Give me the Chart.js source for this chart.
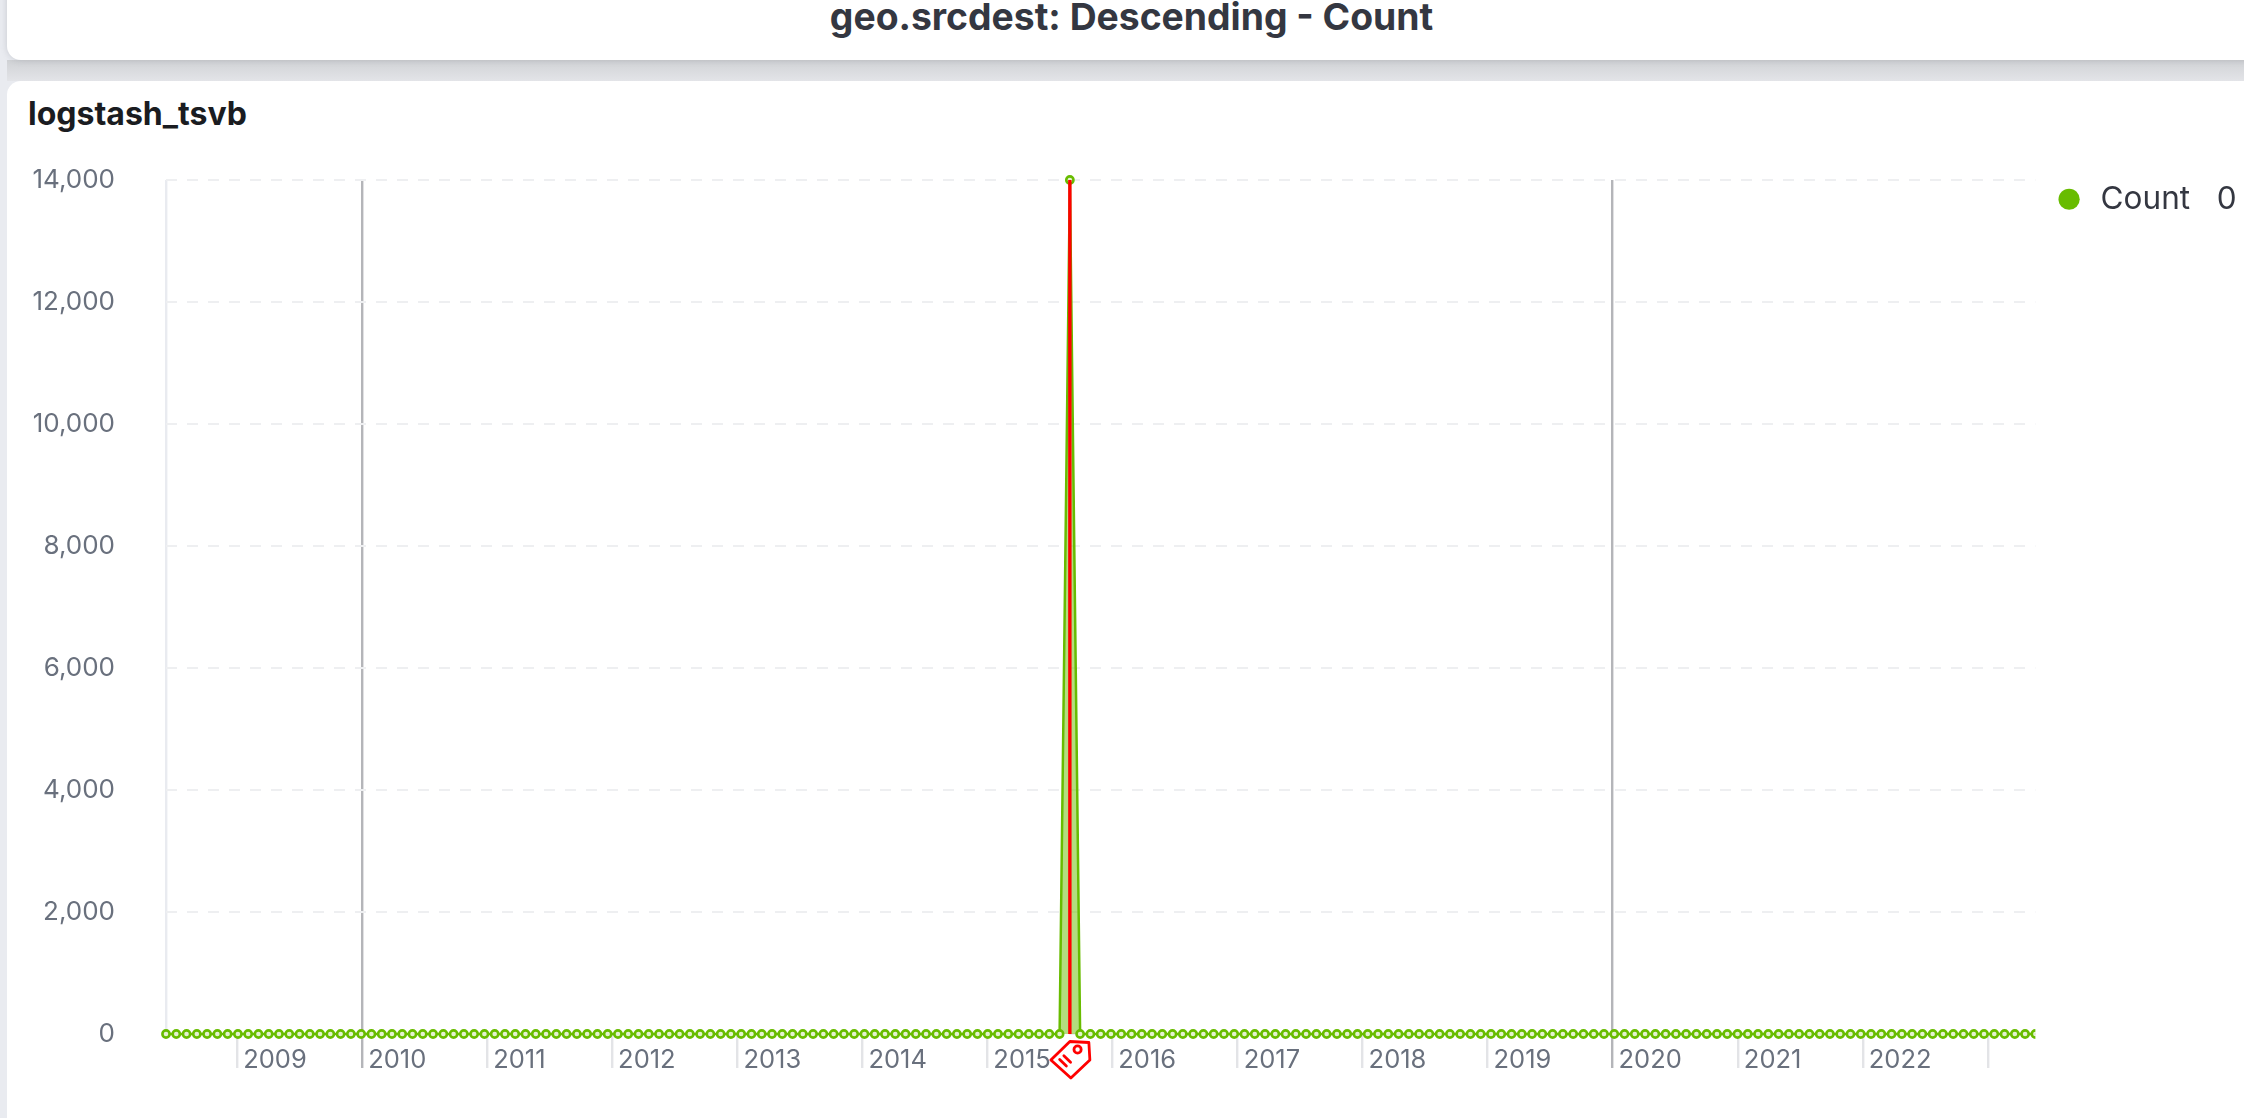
<!DOCTYPE html>
<html><head><meta charset="utf-8">
<script src="https://cdn.jsdelivr.net/npm/chart.js@4"></script>
<style>
html,body{margin:0;padding:0;width:2244px;height:1118px;overflow:hidden;background:#e9ebf0;font-family:Inter,sans-serif}
.card{position:absolute;left:7px;right:-20px;background:#fff;border-radius:14px}
#c1{top:-30px;height:90px;box-shadow:0 0 6px rgba(100,105,115,.25)}
#gut{position:absolute;left:7px;right:0;top:60px;height:21px;background:linear-gradient(#d0d2d5,#e3e4e8)}
#c2{top:81px;height:1100px}
#t1{position:absolute;left:0;top:-3px;width:2263px;text-align:center;font-weight:700;font-size:37.3px;line-height:40px;color:#343741;white-space:nowrap}
#t2{position:absolute;left:28px;top:96px;font-weight:700;font-size:32px;line-height:36px;color:#1a1c21;white-space:nowrap}
canvas{position:absolute;left:0;top:0}
</style></head><body>
<div id="gut"></div>
<div class="card" id="c1"></div>
<div class="card" id="c2"></div>
<div id="t1">geo.srcdest: Descending - Count</div>
<div id="t2">logstash_tsvb</div>
<canvas id="chart" width="2244" height="1118"></canvas>
<script>
const seriesName = 'Count';
const legendValue = '0';
const startDate = '2008-06-07';
const intervalDays = 30;
const yearTicks = [2009,2010,2011,2012,2013,2014,2015,2016,2017,2018,2019,2020,2021,2022,2023];
const unlabeledYears = [2023];
const markedYears = [2010,2020];
const yTicks = [0,2000,4000,6000,8000,10000,12000,14000];
const counts = [
0,0,0,0,0,0,0,0,0,0,0,0,
0,0,0,0,0,0,0,0,0,0,0,0,
0,0,0,0,0,0,0,0,0,0,0,0,
0,0,0,0,0,0,0,0,0,0,0,0,
0,0,0,0,0,0,0,0,0,0,0,0,
0,0,0,0,0,0,0,0,0,0,0,0,
0,0,0,0,0,0,0,0,0,0,0,0,
0,0,0,0,14000,0,0,0,0,0,0,0,
0,0,0,0,0,0,0,0,0,0,0,0,
0,0,0,0,0,0,0,0,0,0,0,0,
0,0,0,0,0,0,0,0,0,0,0,0,
0,0,0,0,0,0,0,0,0,0,0,0,
0,0,0,0,0,0,0,0,0,0,0,0,
0,0,0,0,0,0,0,0,0,0,0,0,
0,0,0,0,0,0,0,0,0,0,0,0,
0,0,0];
const annotationIndex = 88;
const annotationRange = [0,14000];

const GREEN='#68BC00', GRID='#eeeff1', TEXT='#69707d';
const DAY=86400000, t0=Date.parse(startDate);
const times=counts.map((_,i)=>t0+i*intervalDays*DAY);
const yearOf=Object.fromEntries(yearTicks.map(y=>[Date.UTC(y,0,1),y]));

const tagPlugin={id:'tag',
 afterLayout(chart){ chart.legend.top-=12; chart.legend.left+=2.5; },
 afterDatasetsDraw(chart){
  const c=chart.ctx, px=chart.scales.x.getPixelForValue(times[annotationIndex]), py=chart.scales.y.getPixelForValue(0);
  c.save();c.translate(px,py);
  c.strokeStyle='#ff0000';c.fillStyle='#fff';c.lineWidth=2.8;c.lineJoin='round';c.lineCap='round';
  c.beginPath();c.moveTo(-19,26);c.lineTo(0,7.5);c.lineTo(19,8.5);c.lineTo(20,26);c.lineTo(1,44);c.closePath();c.fill();c.stroke();
  c.beginPath();c.arc(7.7,15.5,3.6,0,Math.PI*2);c.stroke();
  c.beginPath();c.moveTo(-10.2,25.5);c.lineTo(-3.5,32);c.moveTo(-6,21.7);c.lineTo(.7,28.2);c.stroke();
  c.restore();
}};

new Chart(document.getElementById('chart'),{
  type:'line',
  plugins:[tagPlugin],
  data:{datasets:[
    {label:seriesName,order:1,data:times.map((t,i)=>({x:t,y:counts[i]})),borderColor:GREEN,backgroundColor:'rgba(104,188,0,.5)',borderWidth:2.5,
     fill:'origin',tension:0,pointRadius:3.6,pointBorderWidth:2.6,pointBorderColor:GREEN,pointBackgroundColor:'#e4f2d0',clip:{left:8,top:8,right:0,bottom:8}},
    {label:'annotation',order:0,data:annotationRange.map(v=>({x:times[annotationIndex],y:v})),borderColor:'#ff0000',borderWidth:3.4,pointRadius:0,fill:false}
  ]},
  options:{
    responsive:false,animation:false,
    layout:{padding:{left:0,top:180,right:0,bottom:0}},
    plugins:{tooltip:{enabled:false},
      legend:{position:'right',align:'start',
        labels:{usePointStyle:true,pointStyle:'circle',boxWidth:36,boxHeight:15,padding:15.5,color:'#343741',font:{family:'Inter',size:31.5},
          generateLabels:()=>[{text:seriesName+'   '+legendValue,fillStyle:GREEN,strokeStyle:GREEN,fontColor:'#343741',lineWidth:0,pointStyle:'circle',datasetIndex:0}]}}},
    scales:{
      x:{type:'linear',min:times[0],max:times[times.length-1],
        afterBuildTicks:s=>{s.ticks=[{value:times[0]}].concat(yearTicks.map(y=>({value:Date.UTC(y,0,1)})));},
        afterFit:s=>{s.height=84;},
        border:{display:false},
        grid:{tickLength:34,drawTicks:true,lineWidth:2.4,tickWidth:2.4,
          color:c=>{const y=yearOf[c.tick.value];return markedYears.includes(y)?'#b4b5b9':(y===undefined?'#e9ebf0':'rgba(0,0,0,0)');},
          tickColor:c=>{const y=yearOf[c.tick.value];return markedYears.includes(y)?'#b4b5b9':(y===undefined?'rgba(0,0,0,0)':'#e3e4e7');}},
        ticks:{autoSkip:false,maxRotation:0,minRotation:0,align:'start',labelOffset:6,padding:-23,color:TEXT,font:{family:'Inter',size:25.5},
          callback:v=>{const y=yearOf[v];return (y===undefined||unlabeledYears.includes(y))?'':String(y);}}},
      y:{min:0,max:14000,
        afterBuildTicks:s=>{s.ticks=yTicks.map(v=>({value:v}));},
        afterFit:s=>{s.width=166;},
        border:{display:false,dash:[11,10]},
        grid:{color:GRID,lineWidth:2,drawTicks:false},
        ticks:{padding:51,color:TEXT,font:{family:'Inter',size:26},callback:v=>v.toLocaleString('en-US')}}
    }
  }
});
</script>
</body></html>
